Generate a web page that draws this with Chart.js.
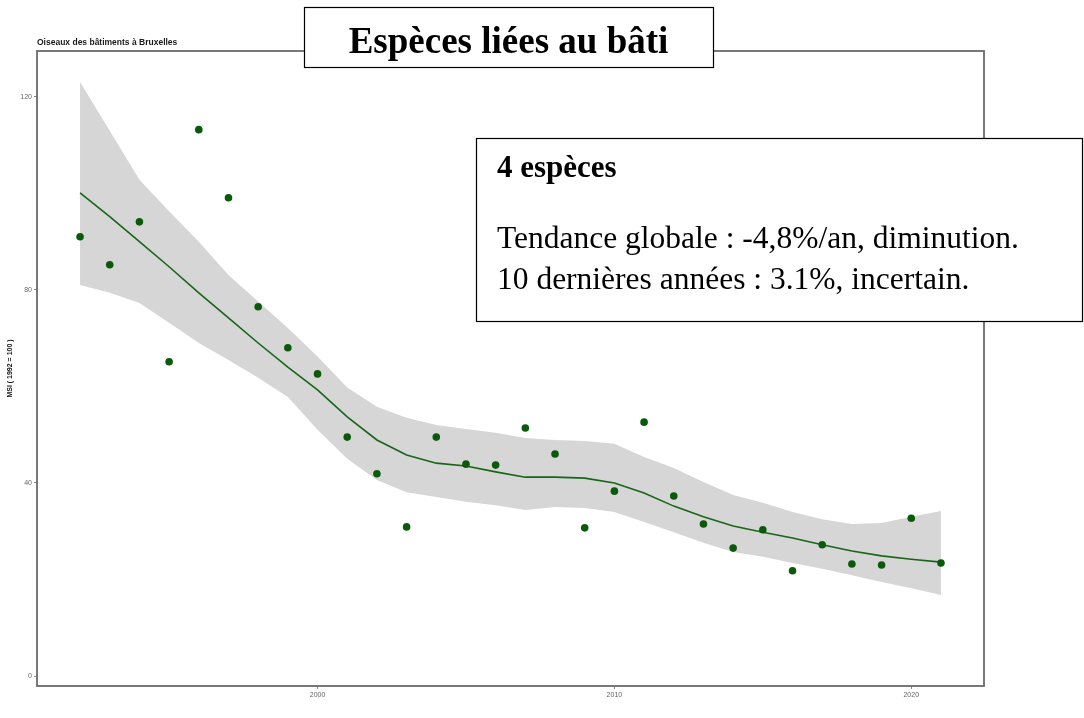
<!DOCTYPE html>
<html>
<head>
<meta charset="utf-8">
<script src="https://cdn.jsdelivr.net/npm/chart.js@4.4.1/dist/chart.umd.min.js"></script>
<style>
  html, body { margin: 0; padding: 0; background: #ffffff; }
  canvas { display: block; }
</style>
</head>
<body>
<canvas id="chart" width="1084" height="718"></canvas>
<script>
// Yearly multi-species index for building-nesting birds in Brussels
const years = [1992, 1993, 1994, 1995, 1996, 1997, 1998, 1999, 2000, 2001,
               2002, 2003, 2004, 2005, 2006, 2007, 2008, 2009, 2010, 2011,
               2012, 2013, 2014, 2015, 2016, 2017, 2018, 2019, 2020, 2021];
const msi = [91.0, 85.2, 94.1, 65.1, 113.2, 99.1, 76.5, 68.0, 62.6, 49.5,
             41.9, 30.9, 49.5, 43.9, 43.7, 51.4, 46.0, 30.7, 38.3, 52.6,
             37.3, 31.5, 26.5, 30.3, 21.8, 27.2, 23.2, 23.0, 32.7, 23.4];
// Smoothed trend and its confidence band
const trend = [100.1, 95.2, 90.0, 84.8, 79.4, 74.2, 69.0, 64.0, 59.3, 53.7,
               48.9, 45.8, 44.1, 43.5, 42.3, 41.2, 41.2, 41.0, 40.0, 37.9,
               35.2, 33.0, 31.1, 29.8, 28.6, 27.2, 25.9, 24.9, 24.2, 23.6];
const upper = [123.1, 113.0, 102.8, 96.3, 90.0, 83.1, 77.6, 72.1, 66.2, 59.8,
               55.8, 53.5, 52.0, 51.2, 50.4, 49.3, 48.9, 48.7, 48.1, 45.4,
               43.1, 40.2, 37.5, 35.9, 34.0, 32.5, 31.5, 31.7, 33.0, 34.2];
const lower = [81.0, 79.4, 77.3, 73.2, 69.0, 65.5, 61.8, 57.8, 51.0, 45.0,
               40.6, 38.1, 37.1, 36.1, 35.4, 34.4, 35.0, 34.8, 34.0, 31.9,
               29.8, 27.6, 25.7, 24.7, 23.4, 22.2, 20.9, 19.5, 18.2, 16.8];

const xTicks = [2000, 2010, 2020];
const yTicks = [0, 40, 80, 120];

const subtitle = 'Oiseaux des bâtiments à Bruxelles';
const yTitle = 'MSI ( 1992 = 100 )';
const titleText = 'Espèces liées au bâti';
const infoHead = '4 espèces';
const infoLines = ['Tendance globale : -4,8%/an, diminution.',
                   '10 dernières années : 3.1%, incertain.'];

const toPoints = arr => years.map((yr, i) => ({ x: yr, y: arr[i] }));

const SANS = "'Liberation Sans', Arial, sans-serif";
const SERIF = "'Liberation Serif', 'Times New Roman', serif";

// Panel frame, headline box and summary box drawn over the plot
const annotations = {
  id: 'annotations',
  afterDraw(chart) {
    const ctx = chart.ctx;
    const a = chart.chartArea;
    ctx.save();

    // panel border
    ctx.strokeStyle = '#6a6a6a';
    ctx.lineWidth = 1.8;
    ctx.strokeRect(a.left, a.top, a.right - a.left, a.bottom - a.top);

    // small heading above the panel
    ctx.fillStyle = '#1a1a1a';
    ctx.font = 'bold 8.5px ' + SANS;
    ctx.textBaseline = 'alphabetic';
    ctx.textAlign = 'left';
    ctx.fillText(subtitle, 37, 45);

    // headline box
    ctx.fillStyle = '#ffffff';
    ctx.fillRect(304, 7, 409, 60);
    ctx.strokeStyle = '#000000';
    ctx.lineWidth = 1.2;
    ctx.strokeRect(304.5, 7.5, 409, 60);
    ctx.fillStyle = '#000000';
    ctx.font = 'bold 37px ' + SERIF;
    ctx.textAlign = 'center';
    ctx.fillText(titleText, 508.5, 53);

    // summary box
    ctx.fillStyle = '#ffffff';
    ctx.fillRect(476, 138, 607, 183);
    ctx.strokeStyle = '#000000';
    ctx.strokeRect(476.5, 138.5, 606, 183);
    ctx.fillStyle = '#000000';
    ctx.textAlign = 'left';
    ctx.font = 'bold 31px ' + SERIF;
    ctx.fillText(infoHead, 497, 177);
    ctx.font = '31.5px ' + SERIF;
    ctx.fillText(infoLines[0], 497, 248);
    ctx.fillText(infoLines[1], 497, 289);

    ctx.restore();
  }
};

new Chart(document.getElementById('chart'), {
  type: 'line',
  data: {
    datasets: [
      {
        label: 'upper',
        data: toPoints(upper),
        borderWidth: 0,
        pointRadius: 0,
        backgroundColor: '#d6d6d6',
        fill: '+1',
        tension: 0,
        order: 3
      },
      {
        label: 'lower',
        data: toPoints(lower),
        borderWidth: 0,
        pointRadius: 0,
        fill: false,
        tension: 0,
        order: 4
      },
      {
        label: 'trend',
        data: toPoints(trend),
        borderColor: '#176617',
        borderWidth: 1.6,
        pointRadius: 0,
        fill: false,
        tension: 0,
        order: 2
      },
      {
        label: 'MSI',
        data: toPoints(msi),
        showLine: false,
        pointRadius: 3.8,
        pointBackgroundColor: '#0b5a0b',
        pointBorderWidth: 0,
        fill: false,
        order: 1
      }
    ]
  },
  options: {
    responsive: false,
    animation: false,
    devicePixelRatio: 1,
    layout: { padding: { left: 6, top: 51, right: 100, bottom: 0 } },
    plugins: {
      legend: { display: false },
      tooltip: { enabled: false },
      title: { display: false }
    },
    scales: {
      x: {
        type: 'linear',
        min: 1990.55,
        max: 2022.45,
        afterBuildTicks: s => { s.ticks = xTicks.map(v => ({ value: v })); },
        afterFit: s => { s.height = 32; },
        ticks: {
          color: '#666666',
          font: { size: 7, family: SANS },
          padding: 2,
          maxRotation: 0,
          callback: v => String(v)
        },
        grid: { drawOnChartArea: false, drawTicks: true, tickLength: 3, color: '#888888' },
        border: { display: false }
      },
      y: {
        type: 'linear',
        min: -2.07,
        max: 129.5,
        afterBuildTicks: s => { s.ticks = yTicks.map(v => ({ value: v })); },
        afterFit: s => { s.width = 31; },
        ticks: {
          color: '#666666',
          font: { size: 7, family: SANS },
          padding: 2,
          callback: v => String(v)
        },
        grid: { drawOnChartArea: false, drawTicks: true, tickLength: 3, color: '#888888' },
        border: { display: false },
        title: {
          display: true,
          text: yTitle,
          color: '#111111',
          font: { size: 7, weight: 'bold', family: SANS },
          padding: { top: 0, bottom: 0 }
        }
      }
    }
  },
  plugins: [annotations]
});
</script>
</body>
</html>
